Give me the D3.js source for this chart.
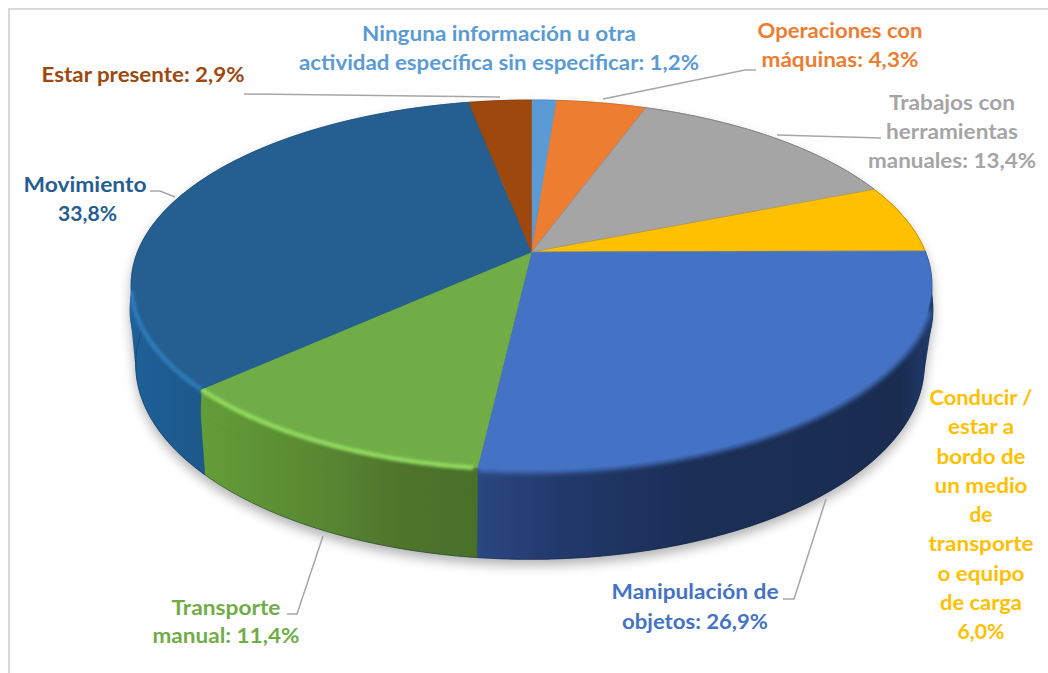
<!DOCTYPE html>
<html><head><meta charset="utf-8">
<script src="https://cdn.jsdelivr.net/npm/d3@7/dist/d3.min.js"></script>
<style>html,body{margin:0;padding:0;background:#fff}svg{display:block}text{font-family:Lato,"Open Sans",sans-serif;font-weight:700}</style>
</head><body><div id="chart"></div>
<script>
// ---- data
const categories = ["Ninguna información u otra actividad específica sin especificar","Operaciones con máquinas","Trabajos con herramientas manuales","Conducir / estar a bordo de un medio de transporte o equipo de carga","Manipulación de objetos","Transporte manual","Movimiento","Estar presente"];
const values = [1.2,4.3,13.4,6.0,26.9,11.4,33.8,2.9];
const colours = ["#5b9bd5","#ed7d31","#a5a5a5","#ffc000","#4472c4","#70ad47","#255e91","#9e480e"];
const labelLines = [
 ["Ninguna información u otra","actividad específica sin especificar: 1,2%"],
 ["Operaciones con","máquinas: 4,3%"],
 ["Trabajos con","herramientas","manuales: 13,4%"],
 ["Conducir /","estar a","bordo de","un medio","de","transporte","o equipo","de carga","6,0%"],
 ["Manipulación de","objetos: 26,9%"],
 ["Transporte","manual: 11,4%"],
 ["Movimiento","33,8%"],
 ["Estar presente: 2,9%"]
];
// ---- layout (label placement, one entry per category)
const labelCx = [499,840,952,981,695,226,85,143];
const labelDx = [null,null,null,null,null,null,[0,2.5],null];
const labelY0 = [41,38,110,405,599,615,192,82];
const labelStep = [29,29,29,29.25,30,28,29,0];
const labelW = [[274,400],[165,157],[126,132,168],[103,66,89,93,23,105,87,82,47],[167,146],[109,147],[123,59],[203]];
const leaders = [null,[[603,99],[745,70],[756,70]],[[777,135],[881,138]],null,[[826,499],[794,599],[783,599]],[[323,536],[297,614],[287,614]],[[175,197],[160,191],[150,191]],[[244,94],[500,97]]];
// side gradient stops, per category
const sideStops = [null,null,null,null,
 [[478,"#2a4780"],[560,"#22396b"],[680,"#1b2f57"],[900,"#1a2c50"],[932,"#1f3b6b"]],
 [[205,"#639d37"],[330,"#578631"],[400,"#4f752c"],[478,"#487029"]],
 [[130,"#1e6099"],[205,"#1d5889"]],null];
const ridge = [null,null,null,null,
 {c:"#4472c4",w:7,b:2.6,from:108,to:187},
 {c:"#93dc60",w:4.5,b:1.4,from:187,to:227.5},
 {c:"#2f7dbb",w:4.5,b:1.6,from:227.5,to:258},null];

const W=1048,H=673;
const svg=d3.select("#chart").append("svg").attr("width",W).attr("height",H);
const defs=svg.append("defs");
const blur=(id,s)=>defs.append("filter").attr("id",id).attr("x","-20%").attr("y","-20%").attr("width","140%").attr("height","140%").append("feGaussianBlur").attr("stdDeviation",s);
blur("sh",6);

// frame
svg.append("path").attr("d",`M9,${H}V9H${W}`).attr("fill","none").attr("stroke","#d9d9d9").attr("stroke-width",2);

// projection of a circle seen in perspective
const k=0.178;
const planes={
 top:{cx:531.5,cy:252,A:394,B:179},
 mid:{cx:531.5,cy:277,A:395,B:179},
 base:{cx:530,cy:330,A:388,B:188.5}
};
const proj=(p,a,r=1)=>{const X=r*Math.sin(a),Y=r*Math.cos(a),w=1+k*Y;return [p.cx+p.A*X/w,p.cy-p.B*Y/w];};
const arcPts=(p,a0,a1,r=1)=>{const n=Math.max(2,Math.ceil(Math.abs(a1-a0)/0.01));return d3.range(n+1).map(i=>proj(p,a0+(a1-a0)*i/n,r));};
const line=d3.line();

// the printed percentages add up to 99.9, so they are laid out on a scale of 100
const total=100;
const arcs=d3.pie().sort(null).value(d=>d).endAngle(2*Math.PI*d3.sum(values)/total)(values);
arcs[arcs.length-1].endAngle=2*Math.PI;
const rad=d3.scaleLinear().domain([0,360]).range([0,2*Math.PI]);

// silhouette of the whole disc
const TAU=2*Math.PI;
const hull=d3.polygonHull([...arcPts(planes.top,0,TAU),...arcPts(planes.mid,0,TAU),...arcPts(planes.base,0,TAU)]);
defs.append("clipPath").attr("id","hullClip").append("path").attr("d",line(hull)+"Z");

// ground shadow
svg.append("path").attr("d",line(hull)+"Z").attr("transform","translate(0,6)").attr("fill","#000").attr("opacity",.3).attr("filter","url(#sh)");

// side gradients
sideStops.forEach((st,i)=>{ if(!st) return;
  const x=d3.scaleLinear().domain([st[0][0],st[st.length-1][0]]).range([0,1]);
  const g=defs.append("linearGradient").attr("id","side"+i).attr("gradientUnits","userSpaceOnUse")
    .attr("x1",st[0][0]).attr("x2",st[st.length-1][0]).attr("y1",0).attr("y2",0);
  st.forEach(s=>g.append("stop").attr("offset",x(s[0])).attr("stop-color",s[1]));
});

// hull behind the sides closes the small gaps at both flanks
const gHull=svg.append("g").attr("clip-path","url(#hullClip)");
gHull.append("rect").attr("x",100).attr("y",200).attr("width",430).attr("height",400).attr("fill","url(#side6)");
gHull.append("rect").attr("x",530).attr("y",200).attr("width",420).attr("height",400).attr("fill","url(#side4)");

// sides
const gSide=svg.append("g");
arcs.forEach((d,i)=>{
  const fill=sideStops[i]?`url(#side${i})`:d3.color(colours[i]).darker(1).formatHex();
  const t=arcPts(planes.top,d.startAngle,d.endAngle),m=arcPts(planes.mid,d.startAngle,d.endAngle),b=arcPts(planes.base,d.startAngle,d.endAngle);
  [[t,m],[m,b]].forEach(([u,v])=>{
    gSide.append("path").attr("d",line(u.concat(v.slice().reverse()))+"Z").attr("fill",fill).attr("stroke",fill).attr("stroke-width",.6);
  });
});
// dark lower edge
svg.append("path").attr("d",line(arcPts(planes.base,rad(88),rad(272)))).attr("fill","none").attr("stroke","#10203a").attr("stroke-opacity",.35).attr("stroke-width",1);

// top faces
const gTop=svg.append("g");
arcs.forEach((d,i)=>{
  gTop.append("path").attr("d",line([[planes.top.cx,planes.top.cy],...arcPts(planes.top,d.startAngle,d.endAngle)])+"Z")
    .attr("fill",colours[i]).attr("stroke",colours[i]).attr("stroke-width",.5);
});
// rim on the back half
arcs.forEach((d,i)=>{
  gTop.append("path").attr("d",line(arcPts(planes.top,d.startAngle,d.endAngle))).attr("fill","none")
    .attr("stroke",d3.color(colours[i]).darker(.9).formatHex()).attr("stroke-opacity",i===3||i===2?.65:.25).attr("stroke-width",1);
});
// seams
arcs.slice(2,5).forEach(d=>{
  const e=proj(planes.top,d.startAngle);
  gTop.append("line").attr("x1",planes.top.cx).attr("y1",planes.top.cy).attr("x2",e[0]).attr("y2",e[1]).attr("stroke","#8a8a8a").attr("stroke-opacity",.55).attr("stroke-width",1);
});

// rounded shoulder: soft ridge along the rim, kept inside its own wedge and the silhouette
arcs.forEach((d,i)=>{ const r=ridge[i]; if(!r) return;
  const from=Math.max(rad(r.from),d.startAngle),to=Math.min(rad(r.to),d.endAngle);
  const cid="wedge"+i, fid="rb"+i;
  defs.append("clipPath").attr("id",cid).append("path").attr("d",line([[planes.top.cx,planes.top.cy],...arcPts(planes.top,d.startAngle,d.endAngle,1.25)])+"Z");
  blur(fid,r.b);
  svg.append("g").attr("clip-path","url(#hullClip)").append("g").attr("clip-path",`url(#${cid})`).append("path")
    .attr("d",line(arcPts(planes.top,from,to))).attr("fill","none").attr("stroke",r.c).attr("stroke-width",r.w)
    .attr("filter",`url(#${fid})`);
});

// leader lines
leaders.forEach(pts=>{ if(!pts) return;
  svg.append("path").attr("d",line(pts)).attr("fill","none").attr("stroke","#a6a6a6").attr("stroke-width",1.5);
});

// labels
labelLines.forEach((ls,i)=>{
  ls.forEach((s,j)=>{
    svg.append("text").attr("x",labelCx[i]+((labelDx[i]||[])[j]||0)).attr("y",labelY0[i]+j*labelStep[i])
      .attr("text-anchor","middle").attr("font-size",20.5).attr("fill",colours[i])
      .attr("textLength",labelW[i][j]).attr("lengthAdjust","spacingAndGlyphs").text(s);
  });
});
</script></body></html>
